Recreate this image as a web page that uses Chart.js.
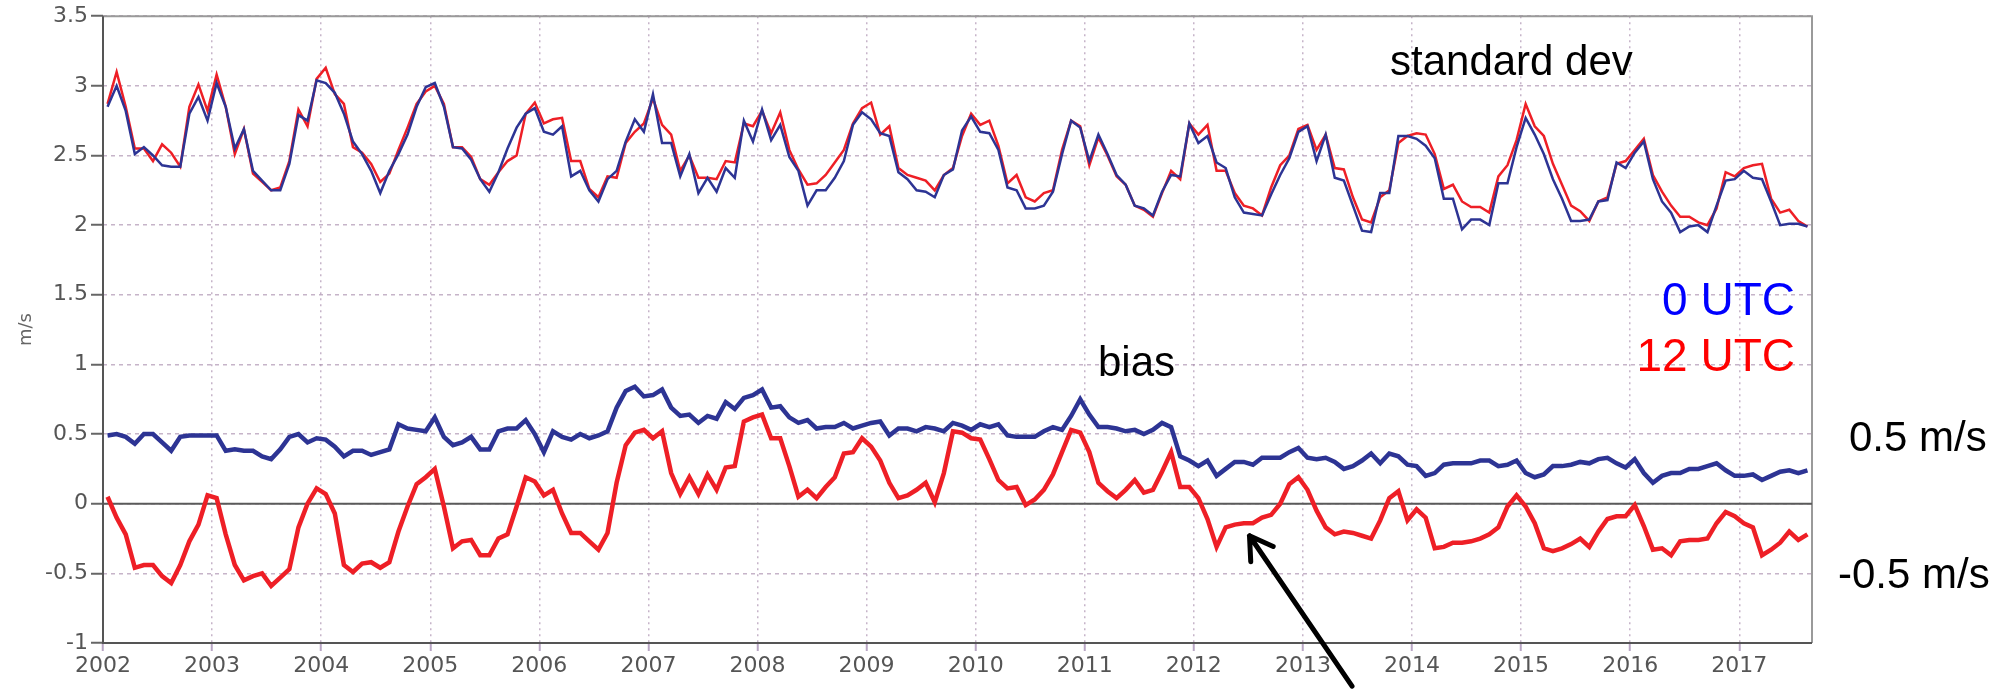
<!DOCTYPE html>
<html>
<head>
<meta charset="utf-8">
<script src="https://cdn.jsdelivr.net/npm/chart.js@4.4.1/dist/chart.umd.min.js"></script>
<style>
  html, body { margin: 0; padding: 0; background: #fff; }
  canvas { display: block; }
</style>
</head>
<body>
<canvas id="chart" width="1994" height="692"></canvas>
<script>
// monthly series, Jan 2002 .. Aug 2017 (one row per year)
const startYear = 2002;
const yearTicks = [2002, 2003, 2004, 2005, 2006, 2007, 2008, 2009, 2010, 2011, 2012, 2013, 2014, 2015, 2016, 2017];

const stdev00 = [
  2.85, 3.00, 2.82, 2.51, 2.56, 2.50, 2.43, 2.42, 2.42, 2.80, 2.92, 2.75,
  3.02, 2.85, 2.55, 2.69, 2.39, 2.32, 2.25, 2.25, 2.44, 2.79, 2.75, 3.04,
  3.02, 2.95, 2.80, 2.60, 2.51, 2.39, 2.23, 2.39, 2.51, 2.65, 2.85, 2.99,
  3.02, 2.85, 2.56, 2.55, 2.47, 2.33, 2.24, 2.38, 2.55, 2.70, 2.80, 2.84,
  2.67, 2.65, 2.71, 2.35, 2.39, 2.25, 2.17, 2.33, 2.39, 2.60, 2.76, 2.67,
  2.94, 2.59, 2.59, 2.35, 2.51, 2.23, 2.34, 2.24, 2.41, 2.34, 2.75, 2.60,
  2.83, 2.61, 2.72, 2.49, 2.39, 2.14, 2.25, 2.25, 2.34, 2.46, 2.72, 2.81,
  2.76, 2.66, 2.64, 2.38, 2.33, 2.25, 2.24, 2.20, 2.36, 2.40, 2.68, 2.78,
  2.67, 2.66, 2.54, 2.27, 2.25, 2.12, 2.12, 2.14, 2.24, 2.51, 2.75, 2.70,
  2.46, 2.65, 2.51, 2.36, 2.29, 2.14, 2.12, 2.07, 2.24, 2.36, 2.35, 2.73,
  2.59, 2.64, 2.45, 2.41, 2.20, 2.09, 2.08, 2.07, 2.22, 2.36, 2.48, 2.67,
  2.71, 2.46, 2.65, 2.34, 2.32, 2.14, 1.96, 1.95, 2.23, 2.23, 2.64, 2.64,
  2.62, 2.57, 2.48, 2.19, 2.19, 1.97, 2.04, 2.04, 2.00, 2.30, 2.30, 2.56,
  2.77, 2.65, 2.51, 2.33, 2.19, 2.03, 2.03, 2.04, 2.17, 2.18, 2.45, 2.41,
  2.52, 2.60, 2.33, 2.17, 2.09, 1.95, 1.99, 2.00, 1.95, 2.14, 2.32, 2.33,
  2.39, 2.34, 2.33, 2.17, 2.00, 2.01, 2.01, 1.99
];

const stdev12 = [
  2.87, 3.10, 2.85, 2.55, 2.55, 2.46, 2.58, 2.52, 2.42, 2.85, 3.01, 2.82,
  3.08, 2.85, 2.51, 2.69, 2.37, 2.31, 2.25, 2.27, 2.46, 2.83, 2.71, 3.05,
  3.13, 2.94, 2.87, 2.56, 2.52, 2.44, 2.31, 2.37, 2.54, 2.70, 2.87, 2.96,
  3.00, 2.87, 2.56, 2.56, 2.49, 2.33, 2.29, 2.38, 2.46, 2.50, 2.80, 2.88,
  2.73, 2.76, 2.77, 2.46, 2.46, 2.26, 2.20, 2.35, 2.34, 2.59, 2.67, 2.73,
  2.91, 2.72, 2.65, 2.39, 2.50, 2.34, 2.34, 2.33, 2.46, 2.45, 2.73, 2.71,
  2.82, 2.66, 2.81, 2.54, 2.40, 2.29, 2.30, 2.36, 2.45, 2.54, 2.73, 2.84,
  2.88, 2.65, 2.71, 2.41, 2.36, 2.34, 2.32, 2.25, 2.36, 2.41, 2.64, 2.80,
  2.72, 2.75, 2.57, 2.30, 2.36, 2.20, 2.17, 2.23, 2.25, 2.54, 2.75, 2.71,
  2.43, 2.63, 2.50, 2.35, 2.29, 2.14, 2.11, 2.06, 2.23, 2.39, 2.33, 2.73,
  2.65, 2.72, 2.39, 2.39, 2.23, 2.14, 2.12, 2.07, 2.27, 2.43, 2.50, 2.69,
  2.72, 2.54, 2.65, 2.41, 2.40, 2.20, 2.04, 2.02, 2.20, 2.25, 2.59, 2.64,
  2.66, 2.65, 2.51, 2.26, 2.29, 2.17, 2.13, 2.13, 2.09, 2.35, 2.43, 2.61,
  2.87, 2.71, 2.64, 2.44, 2.29, 2.14, 2.10, 2.03, 2.17, 2.20, 2.44, 2.46,
  2.54, 2.62, 2.36, 2.24, 2.14, 2.06, 2.06, 2.02, 2.00, 2.12, 2.38, 2.35,
  2.41, 2.43, 2.44, 2.19, 2.09, 2.11, 2.03, 1.99
];

const bias00 = [
  0.49, 0.50, 0.48, 0.43, 0.50, 0.50, 0.44, 0.38, 0.48, 0.49, 0.49, 0.49,
  0.49, 0.38, 0.39, 0.38, 0.38, 0.34, 0.32, 0.39, 0.48, 0.50, 0.44, 0.47,
  0.46, 0.41, 0.34, 0.38, 0.38, 0.35, 0.37, 0.39, 0.57, 0.54, 0.53, 0.52,
  0.62, 0.48, 0.42, 0.44, 0.48, 0.39, 0.39, 0.52, 0.54, 0.54, 0.60, 0.50,
  0.37, 0.52, 0.48, 0.46, 0.50, 0.47, 0.49, 0.52, 0.69, 0.81, 0.84, 0.77,
  0.78, 0.82, 0.69, 0.63, 0.64, 0.58, 0.63, 0.61, 0.73, 0.68, 0.76, 0.78,
  0.82, 0.69, 0.70, 0.62, 0.58, 0.60, 0.54, 0.55, 0.55, 0.58, 0.54, 0.56,
  0.58, 0.59, 0.49, 0.54, 0.54, 0.52, 0.55, 0.54, 0.52, 0.58, 0.56, 0.53,
  0.57, 0.55, 0.57, 0.49, 0.48, 0.48, 0.48, 0.52, 0.55, 0.53, 0.63, 0.75,
  0.64, 0.55, 0.55, 0.54, 0.52, 0.53, 0.50, 0.53, 0.58, 0.55, 0.34, 0.31,
  0.27, 0.31, 0.20, 0.25, 0.30, 0.30, 0.28, 0.33, 0.33, 0.33, 0.37, 0.40,
  0.33, 0.32, 0.33, 0.30, 0.25, 0.27, 0.31, 0.36, 0.29, 0.36, 0.34, 0.28,
  0.27, 0.20, 0.22, 0.28, 0.29, 0.29, 0.29, 0.31, 0.31, 0.27, 0.28, 0.31,
  0.22, 0.19, 0.21, 0.27, 0.27, 0.28, 0.30, 0.29, 0.32, 0.33, 0.29, 0.26,
  0.32, 0.22, 0.15, 0.20, 0.22, 0.22, 0.25, 0.25, 0.27, 0.29, 0.24, 0.20,
  0.20, 0.21, 0.17, 0.20, 0.23, 0.24, 0.22, 0.24
];

const bias12 = [
  0.05, -0.10, -0.22, -0.46, -0.44, -0.44, -0.52, -0.57, -0.44, -0.27, -0.15, 0.06,
  0.04, -0.22, -0.44, -0.55, -0.52, -0.50, -0.59, -0.53, -0.47, -0.17, 0.00, 0.11,
  0.07, -0.07, -0.44, -0.49, -0.43, -0.42, -0.46, -0.42, -0.20, -0.02, 0.14, 0.19,
  0.25, -0.02, -0.32, -0.27, -0.26, -0.37, -0.37, -0.25, -0.22, -0.02, 0.19, 0.16,
  0.06, 0.10, -0.07, -0.21, -0.21, -0.27, -0.33, -0.21, 0.15, 0.42, 0.51, 0.53,
  0.47, 0.52, 0.22, 0.07, 0.19, 0.07, 0.21, 0.10, 0.26, 0.27, 0.59, 0.62,
  0.64, 0.47, 0.47, 0.27, 0.05, 0.10, 0.04, 0.12, 0.19, 0.36, 0.37, 0.47,
  0.41, 0.31, 0.15, 0.04, 0.06, 0.10, 0.15, 0.01, 0.22, 0.52, 0.51, 0.47,
  0.46, 0.32, 0.17, 0.11, 0.12, -0.01, 0.03, 0.10, 0.21, 0.37, 0.53, 0.51,
  0.37, 0.15, 0.09, 0.04, 0.10, 0.17, 0.08, 0.10, 0.23, 0.37, 0.12, 0.12,
  0.04, -0.11, -0.31, -0.17, -0.15, -0.14, -0.14, -0.10, -0.08, 0.00, 0.14, 0.19,
  0.10, -0.05, -0.17, -0.22, -0.20, -0.21, -0.23, -0.25, -0.12, 0.04, 0.09, -0.12,
  -0.04, -0.10, -0.32, -0.31, -0.28, -0.28, -0.27, -0.25, -0.22, -0.17, -0.02, 0.06,
  -0.02, -0.14, -0.32, -0.34, -0.32, -0.29, -0.25, -0.31, -0.20, -0.11, -0.09, -0.09,
  -0.01, -0.16, -0.33, -0.32, -0.37, -0.27, -0.26, -0.26, -0.25, -0.14, -0.06, -0.09,
  -0.14, -0.17, -0.37, -0.33, -0.28, -0.20, -0.26, -0.22
];

// arrow pointing at the 2012 drop (data coordinates)
const arrowTip = { x: 2012.51, y: -0.23 };
const arrowTail = { x: 2013.45, y: -1.31 };

const BLUE = "#2d3494";
const RED = "#ee1f26";
const GRID = "rgba(160,130,165,0.6)";
const TICK_FONT = { family: '"DejaVu Sans", sans-serif', size: 22 };

// month centre in decimal years
function toPoints(values) {
  return values.map((v, i) => ({ x: startYear + (i + 0.5) / 12, y: v }));
}

function line(label, values, color, width, order) {
  return {
    label: label,
    data: toPoints(values),
    borderColor: color,
    backgroundColor: color,
    borderWidth: width,
    pointRadius: 0,
    tension: 0,
    fill: false,
    order: order
  };
}

// -------------------------------
// Frame, zero line and text labels
// -------------------------------
const decorations = {
  id: "decorations",
  beforeDatasetsDraw(chart) {
    const { ctx, chartArea: a, scales } = chart;
    const y0 = scales.y.getPixelForValue(0);
    ctx.save();
    // top + right frame (light)
    ctx.strokeStyle = "#9a9a9a";
    ctx.lineWidth = 2;
    ctx.beginPath();
    ctx.moveTo(a.left, a.top);
    ctx.lineTo(a.right, a.top);
    ctx.lineTo(a.right, a.bottom);
    ctx.stroke();
    // zero line
    ctx.strokeStyle = "#5a5a5a";
    ctx.beginPath();
    ctx.moveTo(a.left, y0);
    ctx.lineTo(a.right, y0);
    ctx.stroke();
    // left + bottom axes
    ctx.strokeStyle = "#555";
    ctx.beginPath();
    ctx.moveTo(a.left, a.top);
    ctx.lineTo(a.left, a.bottom);
    ctx.lineTo(a.right, a.bottom);
    ctx.stroke();
    ctx.restore();
  },
  afterDraw(chart) {
    const { ctx, scales } = chart;
    ctx.save();
    ctx.textBaseline = "alphabetic";

    ctx.fillStyle = "#000";
    ctx.font = '42px "Liberation Sans", Arial, sans-serif';
    ctx.textAlign = "left";
    ctx.fillText("standard dev", 1390, 75);
    ctx.fillText("bias", 1098, 376);
    ctx.fillText("0.5 m/s", 1849, 451);
    ctx.fillText("-0.5 m/s", 1838, 588);

    ctx.font = '46px "Liberation Sans", Arial, sans-serif';
    ctx.textAlign = "right";
    ctx.fillStyle = "#0000ff";
    ctx.fillText("0 UTC", 1795, 315);
    ctx.fillStyle = "#ff0000";
    ctx.fillText("12 UTC", 1795, 371);

    // arrow
    const tx = scales.x.getPixelForValue(arrowTip.x);
    const ty = scales.y.getPixelForValue(arrowTip.y);
    const sx = scales.x.getPixelForValue(arrowTail.x);
    const sy = scales.y.getPixelForValue(arrowTail.y);
    const ang = Math.atan2(ty - sy, tx - sx);
    const head = 26;
    ctx.strokeStyle = "#000";
    ctx.lineWidth = 5;
    ctx.lineCap = "round";
    ctx.lineJoin = "round";
    ctx.beginPath();
    ctx.moveTo(sx, sy);
    ctx.lineTo(tx, ty);
    ctx.moveTo(tx - head * Math.cos(ang - 0.55), ty - head * Math.sin(ang - 0.55));
    ctx.lineTo(tx, ty);
    ctx.lineTo(tx - head * Math.cos(ang + 0.55), ty - head * Math.sin(ang + 0.55));
    ctx.stroke();
    ctx.restore();
  }
};

const config = {
  type: "line",
  data: {
    datasets: [
      line("0 UTC standard dev", stdev00, BLUE, 2.5, 1),
      line("12 UTC standard dev", stdev12, RED, 2.5, 2),
      line("0 UTC bias", bias00, BLUE, 4.5, 3),
      line("12 UTC bias", bias12, RED, 4.5, 4)
    ]
  },
  options: {
    responsive: false,
    animation: false,
    devicePixelRatio: 1,
    layout: { padding: { top: 15, right: 182, bottom: 0, left: 0 } },
    plugins: {
      legend: { display: false },
      title: { display: false },
      tooltip: { enabled: false }
    },
    scales: {
      x: {
        type: "linear",
        min: 2002,
        max: 2017 + 8 / 12,
        afterFit(scale) { scale.height = 49; },
        afterBuildTicks(scale) {
          scale.ticks = yearTicks.map(v => ({ value: v }));
        },
        ticks: {
          color: "#555",
          font: TICK_FONT,
          padding: 2,
          maxRotation: 0,
          autoSkip: false,
          callback: v => String(v)
        },
        grid: {
          color: GRID,
          lineWidth: 1.5,
          tickLength: 8,
          tickColor: "#b9a6c4",
          tickWidth: 2
        },
        border: { display: false, dash: [2, 4] }
      },
      y: {
        min: -1,
        max: 3.5,
        afterFit(scale) { scale.width = 103; },
        ticks: {
          stepSize: 0.5,
          color: "#555",
          font: TICK_FONT,
          padding: 3,
          callback: v => String(v)
        },
        grid: {
          color: GRID,
          lineWidth: 1.5,
          tickLength: 12,
          tickColor: "#666",
          tickWidth: 2
        },
        border: { display: false, dash: [4, 4] },
        title: {
          display: true,
          text: "m/s",
          color: "#666",
          font: { family: '"DejaVu Sans", sans-serif', size: 18 },
          padding: { top: 16, bottom: 0 }
        }
      }
    }
  },
  plugins: [decorations]
};

new Chart(document.getElementById("chart"), config);
</script>
</body>
</html>
